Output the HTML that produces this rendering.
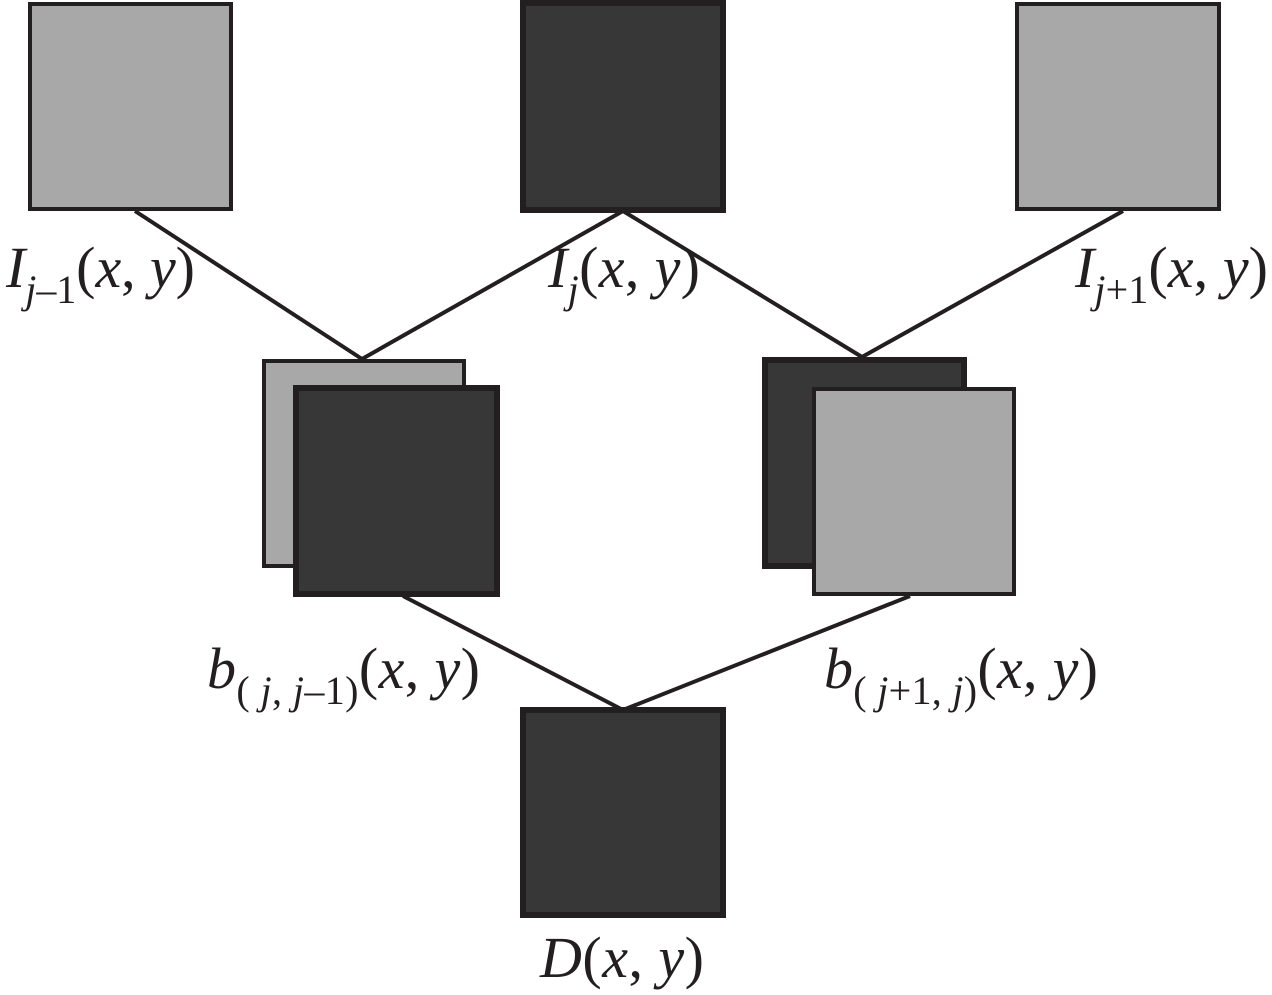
<!DOCTYPE html>
<html><head><style>body{margin:0;background:#fff}svg{display:block}</style></head><body>
<svg width="1272" height="995" viewBox="0 0 1272 995" xmlns="http://www.w3.org/2000/svg" font-family="Liberation Serif, serif" font-size="58" fill="#231f20">
<g stroke="#231f20" stroke-width="4" fill="none">
<line x1="135" y1="211" x2="362" y2="359"/>
<line x1="623" y1="211" x2="362" y2="359"/>
<line x1="623" y1="211" x2="862" y2="357"/>
<line x1="1123" y1="211" x2="862" y2="357"/>
<line x1="403" y1="596" x2="623" y2="710"/>
<line x1="910" y1="596" x2="623" y2="710"/>
</g>
<rect x="30" y="4" width="201" height="205" fill="#a8a8a8" stroke="#231f20" stroke-width="4"/>
<rect x="523" y="3" width="200" height="207" fill="#373737" stroke="#231f20" stroke-width="6"/>
<rect x="1017" y="4" width="202" height="205" fill="#a8a8a8" stroke="#231f20" stroke-width="4"/>
<rect x="264" y="361" width="200" height="205" fill="#a8a8a8" stroke="#231f20" stroke-width="4"/>
<rect x="296" y="388" width="201" height="206" fill="#373737" stroke="#231f20" stroke-width="6"/>
<rect x="765" y="360" width="199" height="206" fill="#373737" stroke="#231f20" stroke-width="6"/>
<rect x="814" y="389" width="200" height="205" fill="#a8a8a8" stroke="#231f20" stroke-width="4"/>
<rect x="523" y="710" width="200" height="205" fill="#373737" stroke="#231f20" stroke-width="6"/>
<text x="6" y="287" font-style="italic" textLength="189" lengthAdjust="spacing">I<tspan font-size="40" dy="16">j</tspan><tspan font-size="40" font-style="normal">–1</tspan><tspan dy="-16" font-style="normal">(</tspan>x<tspan font-style="normal">, </tspan>y<tspan font-style="normal">)</tspan></text>
<text x="548" y="287" font-style="italic" textLength="152" lengthAdjust="spacing">I<tspan font-size="40" dy="16">j</tspan><tspan dy="-16" font-style="normal">(</tspan>x<tspan font-style="normal">, </tspan>y<tspan font-style="normal">)</tspan></text>
<text x="1075" y="287" font-style="italic" textLength="193" lengthAdjust="spacing">I<tspan font-size="40" dy="16">j</tspan><tspan font-size="40" font-style="normal">+1</tspan><tspan dy="-16" font-style="normal">(</tspan>x<tspan font-style="normal">, </tspan>y<tspan font-style="normal">)</tspan></text>
<text x="207" y="688" font-style="italic" textLength="273" lengthAdjust="spacing">b<tspan font-size="40" dy="16" font-style="normal">( </tspan><tspan font-size="40">j</tspan><tspan font-size="40" font-style="normal">, </tspan><tspan font-size="40">j</tspan><tspan font-size="40" font-style="normal">–1)</tspan><tspan dy="-16" font-style="normal">(</tspan>x<tspan font-style="normal">, </tspan>y<tspan font-style="normal">)</tspan></text>
<text x="824" y="688" font-style="italic" textLength="274" lengthAdjust="spacing">b<tspan font-size="40" dy="16" font-style="normal">( </tspan><tspan font-size="40">j</tspan><tspan font-size="40" font-style="normal">+1, </tspan><tspan font-size="40">j</tspan><tspan font-size="40" font-style="normal">)</tspan><tspan dy="-16" font-style="normal">(</tspan>x<tspan font-style="normal">, </tspan>y<tspan font-style="normal">)</tspan></text>
<text x="540" y="977" font-style="italic" textLength="164" lengthAdjust="spacing">D<tspan font-style="normal">(</tspan>x<tspan font-style="normal">, </tspan>y<tspan font-style="normal">)</tspan></text>
</svg>
</body></html>
